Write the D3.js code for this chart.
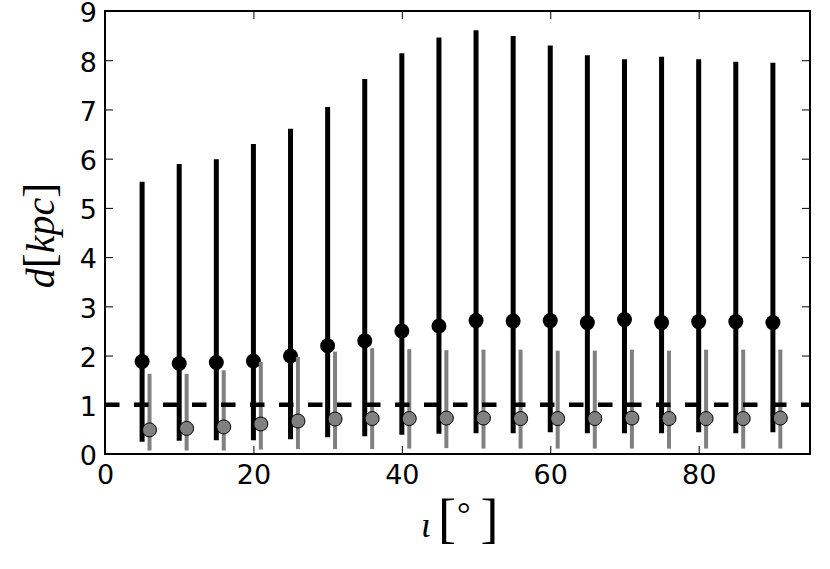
<!DOCTYPE html>
<html>
<head>
<meta charset="utf-8">
<script src="https://cdn.jsdelivr.net/npm/d3@7"></script>
<style>
  body { margin: 0; background: #fff; }
  .tick text { font-family: "DejaVu Sans", sans-serif; font-size: 27px; fill: #000; }
  .math { font-family: "Liberation Serif", serif; fill: #000; }
</style>
</head>
<body>
<div id="container"></div>
<script>
// inclination angles and distances (kpc)
var incBlack = [5, 10, 15, 20, 25, 30, 35, 40, 45, 50, 55, 60, 65, 70, 75, 80, 85, 90];
var dBlack = [1.88, 1.84, 1.86, 1.89, 1.99, 2.2, 2.3, 2.5, 2.6, 2.71, 2.7, 2.71, 2.67, 2.73, 2.67, 2.69, 2.69, 2.67];
var dBlackHi = [5.53, 5.89, 5.99, 6.3, 6.61, 7.05, 7.62, 8.14, 8.46, 8.61, 8.49, 8.3, 8.1, 8.02, 8.07, 8.02, 7.97, 7.95];
var dBlackLo = [0.25, 0.27, 0.28, 0.28, 0.3, 0.34, 0.36, 0.39, 0.41, 0.42, 0.42, 0.44, 0.42, 0.42, 0.42, 0.44, 0.42, 0.44];

var incGray = [6, 11, 16, 21, 26, 31, 36, 41, 46, 51, 56, 61, 66, 71, 76, 81, 86, 91];
var dGray = [0.49, 0.52, 0.55, 0.61, 0.67, 0.71, 0.72, 0.72, 0.73, 0.73, 0.72, 0.72, 0.72, 0.73, 0.72, 0.72, 0.72, 0.73];
var dGrayHi = [1.63, 1.63, 1.7, 1.87, 1.97, 2.08, 2.15, 2.13, 2.11, 2.12, 2.12, 2.1, 2.1, 2.12, 2.1, 2.12, 2.12, 2.12];
var dGrayLo = [0.07, 0.07, 0.07, 0.09, 0.1, 0.1, 0.1, 0.11, 0.12, 0.11, 0.11, 0.11, 0.11, 0.11, 0.11, 0.11, 0.11, 0.11];

var refLine = 1;
var xTicks = [0, 20, 40, 60, 80];
var yTicks = [0, 1, 2, 3, 4, 5, 6, 7, 8, 9];

var W = 830, H = 569;
var margin = {left: 105, right: 20, top: 11, bottom: 115};

var svg = d3.select('#container').append('svg')
	.attr('width', W)
	.attr('height', H);

var x = d3.scaleLinear().domain([0, 95]).range([margin.left, W - margin.right]);
var y = d3.scaleLinear().domain([0, 9]).range([H - margin.bottom, margin.top]);

var black = incBlack.map((d, i) => ({x: d, y: dBlack[i], hi: dBlackHi[i], lo: dBlackLo[i]}));
var gray = incGray.map((d, i) => ({x: d, y: dGray[i], hi: dGrayHi[i], lo: dGrayLo[i]}));

// black error bars + markers
svg.append('g').selectAll('line')
	.data(black).enter().append('line')
	.attr('x1', d => x(d.x)).attr('x2', d => x(d.x))
	.attr('y1', d => y(d.lo)).attr('y2', d => y(d.hi))
	.attr('stroke', '#000')
	.attr('stroke-width', 5);

svg.append('g').selectAll('circle')
	.data(black).enter().append('circle')
	.attr('cx', d => x(d.x)).attr('cy', d => y(d.y))
	.attr('r', 7.5)
	.attr('fill', '#000');

// gray error bars + markers
svg.append('g').selectAll('line')
	.data(gray).enter().append('line')
	.attr('x1', d => x(d.x)).attr('x2', d => x(d.x))
	.attr('y1', d => y(d.lo)).attr('y2', d => y(d.hi))
	.attr('stroke', '#808080')
	.attr('stroke-width', 4);

svg.append('g').selectAll('circle')
	.data(gray).enter().append('circle')
	.attr('cx', d => x(d.x)).attr('cy', d => y(d.y))
	.attr('r', 7)
	.attr('fill', '#808080')
	.attr('stroke', '#000')
	.attr('stroke-width', 1);

// dashed reference line at 1 kpc
svg.append('line')
	.attr('x1', x(0)).attr('x2', x(95))
	.attr('y1', y(refLine)).attr('y2', y(refLine))
	.attr('stroke', '#000')
	.attr('stroke-width', 4.5)
	.attr('stroke-dasharray', '14.5,14.5');

// axes, ticks pointing inward on all sides
var x0 = x.range()[0], x1 = x.range()[1], y0 = y.range()[0], y1 = y.range()[1];

svg.append('g').attr('transform', 'translate(0,' + y0 + ')')
	.call(d3.axisBottom(x).tickValues(xTicks).tickSize(-8).tickSizeOuter(0).tickPadding(11))
	.call(g => g.select('.domain').remove());
svg.append('g').attr('transform', 'translate(0,' + y1 + ')')
	.call(d3.axisTop(x).tickValues(xTicks).tickSize(-8).tickSizeOuter(0).tickFormat(''))
	.call(g => g.select('.domain').remove());
svg.append('g').attr('transform', 'translate(' + x0 + ',0)')
	.call(d3.axisLeft(y).tickValues(yTicks).tickSize(-8).tickSizeOuter(0).tickPadding(8))
	.call(g => g.select('.domain').remove())
	.call(g => g.selectAll('text').attr('dy', '0.4em'));
svg.append('g').attr('transform', 'translate(' + x1 + ',0)')
	.call(d3.axisRight(y).tickValues(yTicks).tickSize(-8).tickSizeOuter(0).tickFormat(''))
	.call(g => g.select('.domain').remove());

svg.selectAll('.tick line').attr('stroke', '#000').attr('stroke-width', 1);

svg.append('rect')
	.attr('x', x0).attr('y', y1)
	.attr('width', x1 - x0).attr('height', y0 - y1)
	.attr('fill', 'none')
	.attr('stroke', '#000')
	.attr('stroke-width', 2);

// axis labels
var xl = svg.append('text').attr('class', 'math')
	.attr('x', 421).attr('y', 537)
	.style('font-size', '36px');
xl.append('tspan').style('font-style', 'italic').text('ι');
xl.append('tspan').attr('dx', 7).style('font-size', '54px').text('[');
xl.append('tspan').attr('dx', 1).attr('dy', -12).style('font-size', '34px').text('°');
xl.append('tspan').attr('dx', 10).attr('dy', 12).style('font-size', '54px').text(']');

var yl = svg.append('text').attr('class', 'math')
	.attr('transform', 'translate(54,' + ((y0 + y1) / 2 + 3) + ') rotate(-90)')
	.attr('text-anchor', 'middle')
	.style('font-size', '40px');
yl.append('tspan').style('font-style', 'italic').text('d');
yl.append('tspan').style('font-size', '45px').text('[');
yl.append('tspan').style('font-style', 'italic').text('kpc');
yl.append('tspan').style('font-size', '45px').text(']');
</script>
</body>
</html>
